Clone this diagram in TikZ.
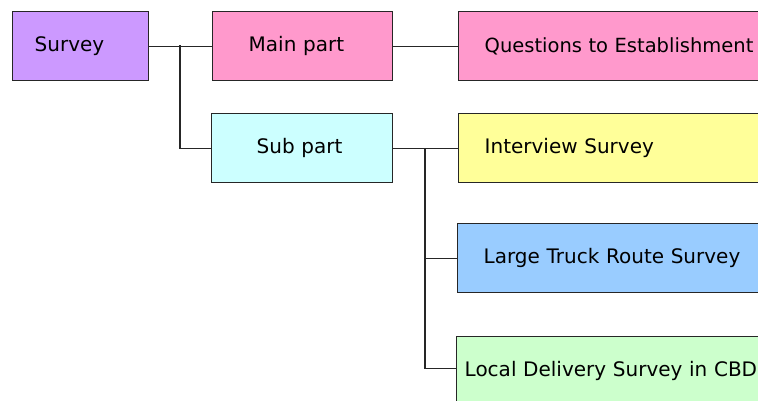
\documentclass[tikz,border=0pt]{standalone}
\usepackage{fontspec}
\setmainfont{DejaVu Sans}
\definecolor{cpurple}{HTML}{CC99FF}
\definecolor{cpink}{HTML}{FF99CC}
\definecolor{ccyan}{HTML}{CCFFFF}
\definecolor{cyellow}{HTML}{FFFF99}
\definecolor{cblue}{HTML}{99CCFF}
\definecolor{cgreen}{HTML}{CCFFCC}
\tikzset{
  box/.style={draw=black!85, line width=1.4pt, anchor=north west, minimum height=69pt,
    align=left, inner ysep=0pt, font=\fontsize{20}{23}\selectfont},
  conn/.style={draw=black!85, line width=1.2pt}
}
\begin{document}
\begin{tikzpicture}[x=1pt,y=-1pt]
\useasboundingbox (0,0) rectangle (758,400);
\fill[white] (0,0) rectangle (758,400);
\begin{scope}
\clip (0,0) rectangle (758,400);
\node[box, fill=cpurple, minimum width=136pt, text width=92pt, inner xsep=22pt] (survey) at (12,11) {Survey};
\node[box, fill=cpink, minimum width=180pt, text width=108pt, inner xsep=36pt] (main) at (212,11) {Main part};
\node[box, fill=ccyan, minimum width=181pt, text width=91pt, inner xsep=45pt] (sub) at (211,113) {Sub part};
\node[box, fill=cpink, minimum width=360pt, text width=308pt, inner xsep=26pt, font=\fontsize{19.5}{23}\selectfont] (quest) at (458,11) {Questions to Establishment};
\node[box, fill=cyellow, minimum width=360pt, text width=308pt, inner xsep=26pt] (inter) at (458,113) {Interview Survey};
\node[box, fill=cblue, minimum width=360pt, text width=308pt, inner xsep=26pt] (large) at (457,223) {Large Truck Route Survey};
\node[box, fill=cgreen, minimum width=360pt, text width=344pt, inner xsep=8pt] (local) at (456,336) {\raisebox{3pt}{Local Delivery Survey in CBD}};
\coordinate (j1) at (180,45);
\coordinate (j2) at (425,148);
\coordinate (localin) at ([yshift=3pt]local.west);
\draw[conn] (survey.east) -- (main.west);
\draw[conn] (j1) |- (sub.west);
\draw[conn] (main.east) -- (quest.west);
\draw[conn] (sub.east) -- (inter.west);
\draw[conn] (j2) |- (large.west);
\draw[conn] (j2) |- (localin);
\end{scope}
\end{tikzpicture}
\end{document}
